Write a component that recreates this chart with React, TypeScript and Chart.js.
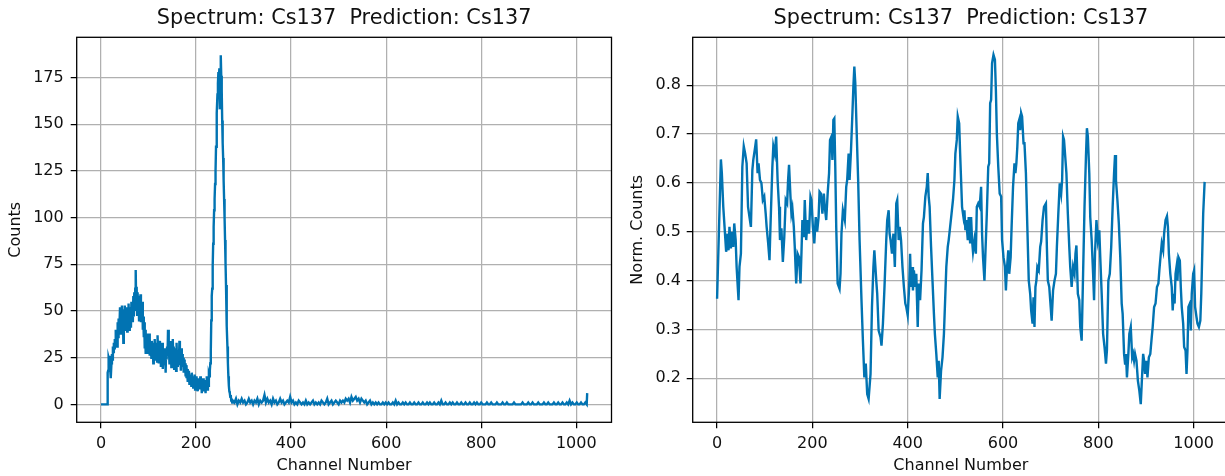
import { useEffect, useRef } from "react";
import { Chart, registerables } from "chart.js";

Chart.register(...registerables);

const FONT = '"DejaVu Sans", sans-serif';
const LINE_COLOR = "#0173B2";
const GRID_COLOR = "#b0b0b0";
const TITLE_TEXT = "Spectrum: Cs137  Prediction: Cs137";

// ---------- left panel: raw counts ----------
// counts for channels 0..277 (one value per channel)
const lowChannelCounts = [
  0, 0, 0, 0, 0, 0, 0, 0, 0, 0, 0, 0, 0,
  0,
  17, 18, 25, 24, 26, 20, 23, 14, 22, 27,
  24, 31, 28, 33, 30, 35, 31, 40, 33, 37,
  31, 44, 36, 46, 38, 43, 52, 41, 49, 38,
  53, 44, 50, 33, 51, 42, 53, 40, 48, 44,
  52, 39, 50, 45, 54, 40, 49, 43, 52, 41,
  55, 46, 51, 44, 58, 47, 60, 50, 62, 72,
  55, 63, 48, 60, 52, 58, 45, 56, 49, 59,
  44, 53, 46, 55, 40, 47, 36, 44, 30, 40,
  27, 38, 29, 35, 27, 37, 30, 38, 26, 35,
  29, 33, 25, 34, 28, 31, 22, 33, 27, 35,
  24, 30, 26, 33, 23, 37, 28, 30, 22, 34,
  25, 31, 20, 29, 24, 33, 19, 28, 23, 30,
  21, 27, 17, 29, 24, 31, 26, 40, 28, 33,
  22, 30, 25, 34, 20, 28, 23, 35, 25, 31,
  19, 29, 24, 30, 18, 33, 22, 27, 20, 29,
  23, 34, 21, 28, 18, 30, 22, 27, 20, 25,
  17, 24, 19, 22, 15, 21, 14, 19, 12, 17,
  13, 18, 11, 16, 12, 15, 10, 17, 11, 14,
  9, 15, 12, 16, 8, 14, 10, 15, 9, 13,
  7, 14, 10, 12, 8, 15, 9, 13, 6, 12,
  10, 14, 7, 11, 9, 13, 6, 12, 9, 15,
  8, 13, 10, 16, 15, 18, 22, 28, 45, 58,
  62, 74, 86, 95, 104, 110, 118, 125, 138, 148,
  156, 166, 172, 178, 174, 180, 158, 175, 187, 176,
  168, 152, 140, 132, 120, 110, 100, 88, 76, 64,
  52, 42, 31, 22, 15, 10, 7, 6, 4, 5,
  2, 3, 1, 2,
];

// tail: channels 278, 281, 284, ... (every third channel) up to 1022
const tailStartChannel = 278;
const tailChannelStep = 3;
const tailCounts = [
  2, 1, 3, 0, 2, 1, 3, 1, 2, 0,
  1, 3, 1, 2, 0, 2, 1, 3, 0, 2,
  1, 2, 5, 1, 3, 1, 2, 0, 3, 1,
  2, 0, 1, 3, 1, 2, 0, 1, 2, 1,
  4, 1, 2, 0, 1, 0, 2, 1, 0, 1,
  0, 2, 0, 1, 0, 1, 2, 0, 1, 0,
  1, 0, 2, 1, 0, 1, 3, 0, 1, 2,
  0, 1, 2, 1, 0, 2, 1, 2, 1, 3,
  2, 3, 1, 4, 2, 3, 4, 2, 3, 1,
  3, 2, 1, 2, 0, 1, 2, 0, 1, 0,
  1, 0, 1, 0, 0, 1, 0, 1, 0, 1,
  0, 0, 1, 0, 2, 0, 1, 0, 0, 1,
  0, 1, 0, 0, 1, 0, 0, 1, 0, 0,
  1, 0, 0, 1, 0, 0, 1, 0, 1, 0,
  0, 1, 0, 0, 1, 0, 2, 0, 0, 1,
  0, 0, 1, 0, 1, 0, 0, 1, 0, 0,
  1, 0, 0, 1, 0, 0, 1, 0, 0, 1,
  0, 1, 0, 0, 1, 0, 0, 0, 1, 0,
  0, 1, 0, 0, 0, 1, 0, 0, 0, 1,
  0, 0, 1, 0, 0, 0, 0, 1, 0, 0,
  0, 0, 0, 1, 0, 0, 0, 1, 0, 0,
  1, 0, 0, 0, 1, 0, 0, 0, 1, 0,
  0, 1, 0, 0, 0, 1, 0, 0, 1, 0,
  0, 1, 0, 0, 1, 0, 2, 0, 1, 0,
  0, 1, 0, 0, 1, 0, 0, 1, 0,
];
const lastChannel = 1023;
const lastChannelCount = 6;

const channelTicks = [0, 200, 400, 600, 800, 1000];
const countTicks = [0, 25, 50, 75, 100, 125, 150, 175];

// ---------- right panel: normalised counts ----------
const normChannels = [
  0, 8, 10, 13, 17, 19, 22, 24, 26, 29, 31, 34, 36, 39, 41, 45, 47, 50, 53, 56,
  59, 62, 65, 68, 71, 74, 76, 80, 82, 85, 87, 90, 93, 96, 99, 102, 104, 107, 110, 112,
  116, 118, 121, 124, 127, 130, 132, 135, 138, 141, 144, 147, 149, 151, 154, 156, 158, 161, 163, 166,
  169, 172, 175, 177, 179, 182, 184, 187, 190, 193, 196, 198, 201, 204, 207, 210, 213, 215, 218, 221,
  224, 226, 229, 232, 235, 237, 240, 242, 244, 246, 248, 250, 253, 257, 259, 261, 264, 268, 271, 273,
  276, 278, 281, 284, 286, 288, 290, 293, 296, 299, 303, 306, 309, 312, 315, 318, 322, 325, 328, 330,
  334, 336, 339, 343, 345, 348, 351, 355, 357, 360, 362, 364, 367, 370, 373, 376, 378, 381, 383, 386,
  389, 392, 395, 397, 400, 403, 405, 407, 409, 411, 413, 416, 418, 421, 423, 426, 429, 432, 434, 437,
  440, 442, 444, 446, 449, 452, 455, 457, 460, 463, 465, 467, 470, 473, 476, 479, 481, 484, 486, 489,
  492, 495, 498, 500, 503, 505, 508, 510, 512, 514, 517, 519, 521, 523, 526, 528, 531, 533, 535, 537,
  540, 543, 545, 548, 551, 554, 556, 558, 561, 563, 566, 569, 571, 573, 575, 577, 580, 583, 585, 587,
  590, 593, 596, 598, 601, 604, 606, 608, 611, 613, 616, 618, 621, 624, 626, 628, 630, 632, 634, 636,
  638, 640, 643, 645, 648, 651, 654, 657, 659, 662, 664, 666, 668, 670, 672, 675, 678, 680, 683, 686,
  690, 692, 694, 697, 700, 702, 705, 708, 711, 713, 716, 719, 722, 724, 726, 728, 730, 733, 736, 739,
  741, 744, 747, 750, 752, 754, 757, 760, 762, 765, 768, 771, 774, 776, 778, 781, 783, 786, 789, 791,
  793, 796, 799, 802, 804, 807, 810, 813, 816, 818, 821, 824, 827, 830, 833, 835, 837, 840, 843, 846,
  849, 851, 854, 856, 858, 860, 863, 865, 868, 871, 873, 875, 877, 880, 883, 886, 889, 891, 894, 896,
  898, 901, 903, 906, 909, 912, 914, 917, 920, 923, 926, 928, 931, 933, 936, 938, 941, 944, 946, 948,
  951, 954, 956, 958, 960, 962, 964, 966, 968, 971, 973, 975, 978, 980, 983, 985, 987, 989, 992, 994,
  996, 999, 1001, 1003, 1006, 1008, 1011, 1014, 1016, 1018, 1020, 1023,
];
const normValues = [
  0.363, 0.648, 0.62, 0.551, 0.49, 0.459, 0.496, 0.462, 0.51, 0.466, 0.5, 0.469, 0.517, 0.483, 0.428, 0.36, 0.428, 0.455, 0.633, 0.675,
  0.66, 0.64, 0.551, 0.53, 0.51, 0.626, 0.647, 0.674, 0.689, 0.62, 0.64, 0.606, 0.6, 0.565, 0.572, 0.537, 0.51, 0.479, 0.442, 0.51,
  0.633, 0.675, 0.66, 0.695, 0.606, 0.551, 0.483, 0.507, 0.438, 0.489, 0.565, 0.558, 0.606, 0.637, 0.572, 0.537, 0.548, 0.51, 0.469, 0.394,
  0.455, 0.448, 0.394, 0.455, 0.524, 0.489, 0.565, 0.483, 0.524, 0.496, 0.572, 0.565, 0.51, 0.476, 0.53, 0.5, 0.53, 0.582, 0.578, 0.537,
  0.578, 0.551, 0.524, 0.578, 0.62, 0.688, 0.695, 0.647, 0.729, 0.732, 0.633, 0.51, 0.394, 0.383, 0.414, 0.496, 0.544, 0.524, 0.592, 0.606,
  0.66, 0.606, 0.667, 0.743, 0.797, 0.838, 0.804, 0.702, 0.606, 0.483, 0.36, 0.277, 0.202, 0.23, 0.168, 0.158, 0.209, 0.346, 0.428, 0.462,
  0.4, 0.373, 0.298, 0.284, 0.267, 0.312, 0.38, 0.483, 0.524, 0.544, 0.496, 0.483, 0.455, 0.496, 0.428, 0.558, 0.565, 0.483, 0.51, 0.483,
  0.428, 0.387, 0.353, 0.346, 0.329, 0.387, 0.455, 0.387, 0.428, 0.38, 0.421, 0.387, 0.414, 0.305, 0.394, 0.36, 0.421, 0.517, 0.53, 0.572,
  0.592, 0.62, 0.572, 0.551, 0.469, 0.4, 0.332, 0.291, 0.25, 0.202, 0.236, 0.158, 0.216, 0.243, 0.291, 0.373, 0.428, 0.469, 0.483, 0.51,
  0.537, 0.565, 0.606, 0.66, 0.688, 0.736, 0.722, 0.66, 0.606, 0.551, 0.53, 0.544, 0.503, 0.524, 0.483, 0.53, 0.476, 0.53, 0.483, 0.459,
  0.483, 0.455, 0.551, 0.558, 0.551, 0.592, 0.496, 0.448, 0.4, 0.455, 0.537, 0.633, 0.64, 0.763, 0.77, 0.845, 0.862, 0.852, 0.79, 0.702,
  0.633, 0.578, 0.572, 0.483, 0.448, 0.428, 0.38, 0.421, 0.462, 0.414, 0.448, 0.51, 0.592, 0.64, 0.62, 0.64, 0.674, 0.722, 0.729, 0.708,
  0.743, 0.736, 0.681, 0.681, 0.62, 0.51, 0.4, 0.373, 0.339, 0.312, 0.366, 0.305, 0.387, 0.4, 0.428, 0.421, 0.469, 0.48, 0.524, 0.551,
  0.558, 0.469, 0.4, 0.387, 0.346, 0.318, 0.38, 0.4, 0.414, 0.469, 0.537, 0.599, 0.578, 0.606, 0.695, 0.688, 0.688, 0.62, 0.537, 0.469,
  0.428, 0.387, 0.428, 0.414, 0.455, 0.472, 0.373, 0.36, 0.305, 0.277, 0.414, 0.551, 0.654, 0.712, 0.695, 0.62, 0.53, 0.483, 0.414, 0.36,
  0.455, 0.524, 0.483, 0.503, 0.448, 0.373, 0.291, 0.264, 0.23, 0.257, 0.4, 0.414, 0.469, 0.551, 0.62, 0.657, 0.606, 0.565, 0.517, 0.448,
  0.353, 0.332, 0.25, 0.23, 0.25, 0.202, 0.25, 0.291, 0.305, 0.243, 0.25, 0.236, 0.25, 0.236, 0.195, 0.175, 0.147, 0.189, 0.25, 0.236,
  0.209, 0.236, 0.202, 0.243, 0.25, 0.284, 0.305, 0.346, 0.353, 0.387, 0.394, 0.421, 0.455, 0.476, 0.462, 0.496, 0.524, 0.532, 0.51, 0.455,
  0.414, 0.387, 0.339, 0.373, 0.353, 0.414, 0.428, 0.4, 0.448, 0.441, 0.387, 0.346, 0.312, 0.264, 0.257, 0.209, 0.257, 0.346, 0.353, 0.298,
  0.373, 0.414, 0.421, 0.346, 0.325, 0.312, 0.305, 0.318, 0.373, 0.455, 0.537, 0.602,
];
const normTicks = [0.2, 0.3, 0.4, 0.5, 0.6, 0.7, 0.8];

type Pt = { x: number; y: number };

function buildRawPoints(): Pt[] {
  const pts: Pt[] = lowChannelCounts.map((v, i) => ({ x: i, y: v }));
  tailCounts.forEach((v, i) => pts.push({ x: tailStartChannel + i * tailChannelStep, y: v }));
  pts.push({ x: lastChannel, y: lastChannelCount });
  return pts;
}

function buildNormPoints(): Pt[] {
  return normChannels.map((c, i) => ({ x: c, y: normValues[i] }));
}

const decoPlugin = {
  id: "deco",
  afterDraw(chart: any, _args: any, opts: any) {
    const { ctx, chartArea: a } = chart;
    ctx.save();
    ctx.strokeStyle = "#000";
    ctx.lineWidth = 1.3;
    ctx.strokeRect(a.left, a.top, a.right - a.left, a.bottom - a.top);
    ctx.fillStyle = "#111";
    const cx = (a.left + a.right) / 2;
    ctx.textAlign = "center";
    ctx.textBaseline = "alphabetic";
    ctx.font = `20.8px ${FONT}`;
    ctx.fillText(opts.title, cx, opts.titleBaseline);
    ctx.font = `16px ${FONT}`;
    ctx.fillText(opts.xLabel, cx, opts.xLabelBaseline);
    ctx.save();
    ctx.translate(opts.yLabelBaselineX, (a.top + a.bottom) / 2);
    ctx.rotate(-Math.PI / 2);
    ctx.fillText(opts.yLabel, 0, 0);
    ctx.restore();
    ctx.restore();
  },
};

interface PanelProps {
  width: number;
  height: number;
  left: number;
  points: Pt[];
  yMin: number;
  yMax: number;
  yTicks: number[];
  yDecimals: number;
  yAxisWidth: number;
  rightPad: number;
  yTickPad: number;
  yLabel: string;
  yLabelBaselineX: number;
}

function Panel(p: PanelProps) {
  const ref = useRef<HTMLCanvasElement | null>(null);
  useEffect(() => {
    if (!ref.current) return;
    const chart = new Chart(ref.current, {
      type: "line",
      data: {
        datasets: [
          {
            data: p.points,
            borderColor: LINE_COLOR,
            borderWidth: 2.4,
            pointRadius: 0,
            tension: 0,
            fill: false,
          },
        ],
      },
      options: {
        animation: false,
        responsive: false,
        devicePixelRatio: 1,
        events: [],
        layout: { padding: { left: 0, right: p.rightPad, top: 37.3, bottom: 0 } },
        plugins: {
          legend: { display: false },
          tooltip: { enabled: false },
          deco: {
            title: TITLE_TEXT,
            titleBaseline: 24,
            xLabel: "Channel Number",
            xLabelBaseline: 470,
            yLabel: p.yLabel,
            yLabelBaselineX: p.yLabelBaselineX,
          },
        } as any,
        scales: {
          x: {
            type: "linear",
            min: -51.15,
            max: 1074.15,
            afterBuildTicks: (s: any) => {
              s.ticks = channelTicks.map((v) => ({ value: v }));
            },
            afterFit: (s: any) => {
              s.height = p.height - 422.3;
            },
            grid: {
              color: GRID_COLOR,
              lineWidth: 1.25,
              drawTicks: true,
              tickLength: 6,
              tickColor: "#000",
              tickWidth: 1.25,
            },
            border: { display: false },
            ticks: {
              autoSkip: false,
              maxRotation: 0,
              padding: 5.6,
              color: "#111",
              font: { family: FONT, size: 16 },
              callback: (v: any) => String(v),
            },
          },
          y: {
            type: "linear",
            min: p.yMin,
            max: p.yMax,
            afterBuildTicks: (s: any) => {
              s.ticks = p.yTicks.map((v) => ({ value: v }));
            },
            afterFit: (s: any) => {
              s.width = p.yAxisWidth;
            },
            grid: {
              color: GRID_COLOR,
              lineWidth: 1.25,
              drawTicks: true,
              tickLength: 6,
              tickColor: "#000",
              tickWidth: 1.25,
            },
            border: { display: false },
            ticks: {
              autoSkip: false,
              padding: p.yTickPad,
              color: "#111",
              font: { family: FONT, size: 16 },
              callback: (v: any) => Number(v).toFixed(p.yDecimals),
            },
          },
        },
      },
      plugins: [decoPlugin],
    });
    return () => chart.destroy();
  }, []);
  return (
    <canvas
      ref={ref}
      width={p.width}
      height={p.height}
      style={{ position: "absolute", left: p.left, top: 0, width: p.width, height: p.height }}
    />
  );
}

export default function App() {
  const raw = buildRawPoints();
  const norm = buildNormPoints();
  return (
    <div
      style={{
        position: "fixed",
        left: 0,
        top: 0,
        width: 1225,
        height: 476,
        overflow: "hidden",
        background: "#fff",
      }}
    >
      <Panel
        width={620}
        height={476}
        left={0}
        points={raw}
        yMin={-9.6}
        yMax={196.6}
        yTicks={countTicks}
        yDecimals={0}
        yAxisWidth={76.7}
        rightPad={620 - 611.5}
        yTickPad={7}
        yLabel="Counts"
        yLabelBaselineX={20}
      />
      <Panel
        width={640}
        height={476}
        left={612}
        points={norm}
        yMin={0.11}
        yMax={0.898}
        yTicks={normTicks}
        yDecimals={1}
        yAxisWidth={80.7}
        rightPad={640 - 617}
        yTickPad={5.8}
        yLabel="Norm. Counts"
        yLabelBaselineX={29.7}
      />
    </div>
  );
}
